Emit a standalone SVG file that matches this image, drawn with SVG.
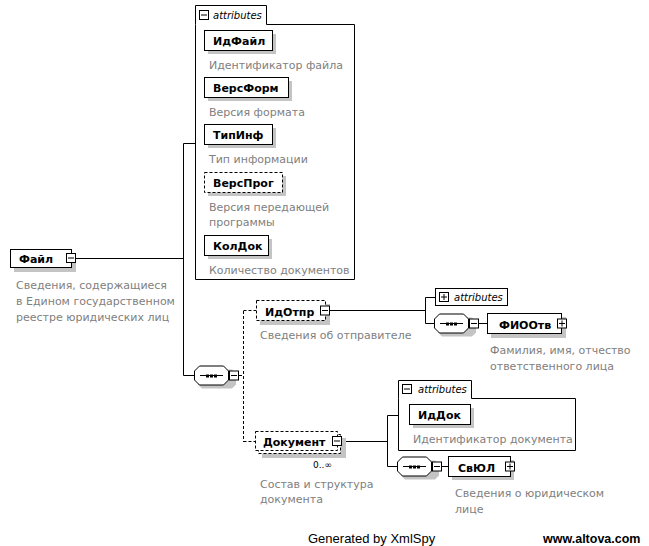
<svg xmlns="http://www.w3.org/2000/svg" width="649" height="546" viewBox="0 0 649 546">
<defs>
<style>
.bx{fill:#fff;stroke:#000;stroke-width:1}
.dbx{fill:#fff;stroke:#000;stroke-width:1;stroke-dasharray:3,2}
.sh{fill:#c4c4c4;stroke:none}
.ln{fill:none;stroke:#000;stroke-width:1}
.dln{fill:none;stroke:#000;stroke-width:1;stroke-dasharray:3,2}
.lbl{font-family:"DejaVu Sans",Verdana,sans-serif;font-size:11px;font-weight:bold;fill:#000}
.dsc{font-family:"DejaVu Sans",Verdana,sans-serif;font-size:11px;fill:#808080}
.att{font-family:"DejaVu Sans",Verdana,sans-serif;font-size:10px;font-style:italic;fill:#000}
.occ{font-family:"DejaVu Sans",Verdana,sans-serif;font-size:9px;fill:#000}
.ft{font-family:"Liberation Sans",Arial,sans-serif;font-size:13px;fill:#000}
.ftb{font-family:"Liberation Sans",Arial,sans-serif;font-size:12.5px;font-weight:bold;fill:#000}
</style>
<g id="minus"><rect x="0.5" y="0.5" width="9" height="9" class="bx"/><line x1="2" y1="5" x2="8" y2="5" class="ln"/></g>
<g id="plus"><rect x="0.5" y="0.5" width="9" height="9" class="bx"/><line x1="2" y1="5" x2="8" y2="5" class="ln"/><line x1="5" y1="2" x2="5" y2="8" class="ln"/></g>
<g id="seq">
<polygon points="10,4 40,4 44,8 44,19 40,23 10,23 6,19 6,8" class="sh" transform="translate(-2,0)"/>
<polygon points="5.5,0.5 29.5,0.5 34.5,5.5 34.5,14.5 29.5,19.5 5.5,19.5 0.5,14.5 0.5,5.5" class="bx"/>
<line x1="6" y1="10" x2="29" y2="10" class="ln"/>
<rect x="12" y="9" width="3" height="3" fill="#000"/><rect x="16" y="9" width="3" height="3" fill="#000"/><rect x="20" y="9" width="3" height="3" fill="#000"/>
</g>
</defs>
<rect width="649" height="546" fill="#fff"/>

<g id="connectors">
<line x1="76" y1="258.5" x2="183.5" y2="258.5" class="ln"/>
<line x1="183.5" y1="143.5" x2="183.5" y2="375.5" class="ln"/>
<line x1="183.5" y1="143.5" x2="195.5" y2="143.5" class="ln"/>
<line x1="183.5" y1="375.5" x2="194.5" y2="375.5" class="ln"/>
<line x1="239" y1="375.5" x2="243.5" y2="375.5" class="dln"/>
<line x1="243.5" y1="311" x2="243.5" y2="442" class="dln"/>
<line x1="243.5" y1="310.5" x2="256" y2="310.5" class="dln"/>
<line x1="243.5" y1="441.5" x2="255" y2="441.5" class="dln"/>
<line x1="330" y1="310.5" x2="425.5" y2="310.5" class="ln"/>
<line x1="425.5" y1="297.5" x2="425.5" y2="323.5" class="ln"/>
<line x1="425.5" y1="297.5" x2="435.5" y2="297.5" class="ln"/>
<line x1="425.5" y1="323.5" x2="435.5" y2="323.5" class="ln"/>
<line x1="479" y1="323.5" x2="487.5" y2="323.5" class="ln"/>
<line x1="342" y1="441.5" x2="387.5" y2="441.5" class="ln"/>
<line x1="387.5" y1="415.5" x2="387.5" y2="466.5" class="ln"/>
<line x1="387.5" y1="415.5" x2="398.5" y2="415.5" class="ln"/>
<line x1="387.5" y1="466.5" x2="397.5" y2="466.5" class="ln"/>
<line x1="442" y1="466.5" x2="448.5" y2="466.5" class="ln"/>
</g>

<g id="node-file">
<rect x="14" y="253" width="62" height="19" class="sh"/>
<rect x="10.5" y="249.5" width="61" height="18" class="bx"/>
<text x="19" y="262.5" class="lbl">Файл</text>
<use href="#minus" x="66" y="253"/>
<text class="dsc"><tspan x="16" y="289">Сведения, содержащиеся</tspan><tspan x="16" y="305">в Едином государственном</tspan><tspan x="16" y="321">реестре юридических лиц</tspan></text>
</g>

<g id="attributes-file">
<path d="M195.5,24.5 V5.5 H266.5 V24.5 H354.5 V279.5 H195.5 Z" class="bx"/>
<use href="#minus" x="199" y="10"/>
<text x="213" y="19" class="att">attributes</text>
</g>

<g id="attr-idfile">
<rect x="208" y="34" width="68" height="20" class="sh"/>
<rect x="204.5" y="30.5" width="68" height="20" class="bx"/>
<text x="213" y="45" class="lbl">ИдФайл</text>
<text x="209" y="69" class="dsc">Идентификатор файла</text>
</g>
<g id="attr-versform">
<rect x="208" y="81" width="84" height="20" class="sh"/>
<rect x="204.5" y="77.5" width="84" height="20" class="bx"/>
<text x="213" y="92" class="lbl">ВерсФорм</text>
<text x="209" y="116" class="dsc">Версия формата</text>
</g>
<g id="attr-tipinf">
<rect x="208" y="128" width="68" height="20" class="sh"/>
<rect x="204.5" y="124.5" width="68" height="20" class="bx"/>
<text x="213" y="139" class="lbl">ТипИнф</text>
<text x="209" y="163" class="dsc">Тип информации</text>
</g>
<g id="attr-versprog">
<rect x="208" y="176" width="78" height="20" class="sh"/>
<rect x="204.5" y="172.5" width="78" height="20" class="dbx"/>
<text x="213" y="187" class="lbl">ВерсПрог</text>
<text class="dsc"><tspan x="209" y="211">Версия передающей</tspan><tspan x="209" y="226">программы</tspan></text>
</g>
<g id="attr-koldok">
<rect x="208" y="239" width="64" height="20" class="sh"/>
<rect x="204.5" y="235.5" width="64" height="20" class="bx"/>
<text x="213" y="250" class="lbl">КолДок</text>
<text x="209" y="274" class="dsc">Количество документов</text>
</g>

<g id="seq-file">
<use href="#seq" x="194" y="365.5"/>
<use href="#minus" x="229" y="370.5"/>
</g>

<g id="node-idotpr">
<rect x="260" y="304" width="70" height="21" class="sh"/>
<rect x="256.5" y="300.5" width="69" height="20" class="dbx"/>
<text x="265" y="315.5" class="lbl">ИдОтпр</text>
<use href="#minus" x="320" y="305.5"/>
<text x="260" y="339" class="dsc">Сведения об отправителе</text>
</g>

<g id="attributes-idotpr">
<rect x="435.5" y="288.5" width="72" height="17" class="bx"/>
<use href="#plus" x="439" y="292"/>
<text x="454" y="301" class="att">attributes</text>
</g>

<g id="seq-idotpr">
<use href="#seq" x="434" y="313.5"/>
<use href="#minus" x="469" y="318.5"/>
</g>

<g id="node-fiootv">
<rect x="491" y="317" width="75" height="21" class="sh"/>
<rect x="487.5" y="313.5" width="74" height="20" class="bx"/>
<text x="499" y="328.5" class="lbl">ФИООтв</text>
<use href="#plus" x="557" y="318.5"/>
<text class="dsc"><tspan x="490" y="354">Фамилия, имя, отчество</tspan><tspan x="490" y="370">ответственного лица</tspan></text>
</g>

<g id="node-document">
<rect x="262" y="438" width="84" height="20" class="sh"/>
<rect x="258.5" y="434.5" width="82" height="19" class="dbx"/>
<rect x="255.5" y="431.5" width="82" height="19" class="dbx"/>
<text x="263" y="446" class="lbl">Документ</text>
<use href="#minus" x="332" y="436"/>
<text x="313" y="468" class="occ">0..∞</text>
<text class="dsc"><tspan x="260" y="488">Состав и структура</tspan><tspan x="260" y="503">документа</tspan></text>
</g>

<g id="attributes-document">
<path d="M398.5,398.5 V380.5 H471.5 V398.5 H575.5 V450.5 H398.5 Z" class="bx"/>
<use href="#minus" x="402" y="384"/>
<text x="418" y="393" class="att">attributes</text>
</g>
<g id="attr-iddok">
<rect x="413" y="408" width="61" height="20" class="sh"/>
<rect x="409.5" y="404.5" width="61" height="20" class="bx"/>
<text x="418" y="419" class="lbl">ИдДок</text>
<text x="413" y="443" class="dsc">Идентификатор документа</text>
</g>

<g id="seq-document">
<use href="#seq" x="397" y="456.5"/>
<use href="#minus" x="432" y="461.5"/>
</g>

<g id="node-svul">
<rect x="452" y="460" width="62" height="20" class="sh"/>
<rect x="448.5" y="456.5" width="62" height="20" class="bx"/>
<text x="458" y="471.5" class="lbl">СвЮЛ</text>
<use href="#plus" x="505" y="461.5"/>
<text class="dsc"><tspan x="455" y="497">Сведения о юридическом</tspan><tspan x="455" y="513">лице</tspan></text>
</g>

<text x="308" y="543" class="ft">Generated by XmlSpy</text>
<text x="543" y="543" class="ftb">www.altova.com</text>
</svg>
